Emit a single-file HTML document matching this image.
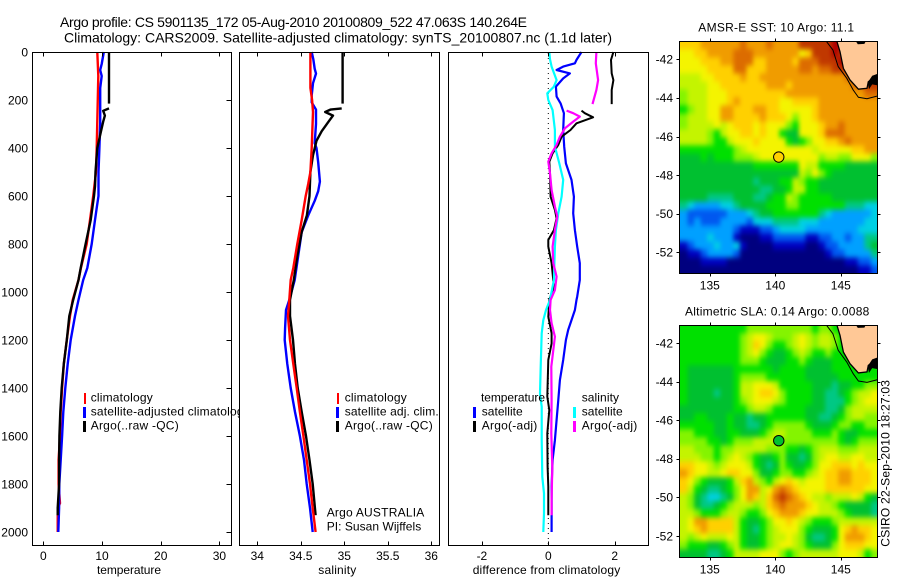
<!DOCTYPE html>
<html>
<head>
<meta charset="utf-8">
<title>Argo profile 5901135_172</title>
<style>
html,body{margin:0;padding:0;background:#fff;}
svg{display:block;}
text{font-family:"Liberation Sans",sans-serif;font-size:12px;fill:#000;}
.t14{font-size:14px;}
.line{fill:none;stroke-linejoin:round;stroke-linecap:butt;}
</style>
</head>
<body>
<svg id="chart" width="900" height="580" viewBox="0 0 900 580" xmlns="http://www.w3.org/2000/svg">
<defs>
<filter id="smooth" filterUnits="userSpaceOnUse" x="640" y="0" width="260" height="580" color-interpolation-filters="sRGB">
<feGaussianBlur stdDeviation="2.2 2.6"/>
</filter>
<clipPath id="clip-map-top"><rect x="680" y="42" width="197" height="231"/></clipPath>
<clipPath id="clip-map-bottom"><rect x="680" y="326" width="197" height="231"/></clipPath>
</defs>
<text class="t14" x="60" y="27" textLength="467" lengthAdjust="spacing">Argo profile: CS 5901135_172 05-Aug-2010 20100809_522 47.063S 140.264E</text>
<text class="t14" x="64" y="42.5" textLength="548" lengthAdjust="spacing">Climatology: CARS2009. Satellite-adjusted climatology: synTS_20100807.nc (1.1d later)</text>

<g id="panel1">
<rect x="32.5" y="52.5" width="199" height="493" fill="#fff" stroke="none"/>
<g id="p1marks"></g>
<rect x="84" y="393" width="2" height="11" fill="#ff0000"/>
<rect x="83" y="407" width="3" height="11" fill="#0000ff"/>
<rect x="83" y="421" width="3" height="11" fill="#000"/>
<text x="90.7" y="401.7" textLength="62" lengthAdjust="spacing">climatology</text>
<text x="90.7" y="415.7" textLength="159" lengthAdjust="spacing">satellite-adjusted climatology</text>
<text x="90.7" y="429.7" textLength="88" lengthAdjust="spacing">Argo(..raw -QC)</text>
<rect x="32.5" y="52.5" width="199" height="493" fill="none" stroke="#000"/>
<g id="p1axes"></g>
<text x="97" y="574" textLength="64" lengthAdjust="spacing">temperature</text>
</g>

<g id="panel2">
<rect x="239.5" y="52.5" width="200" height="493" fill="#fff" stroke="none"/>
<g id="p2marks"></g>
<rect x="337" y="393" width="2" height="11" fill="#ff0000"/>
<rect x="336" y="407" width="3" height="11" fill="#0000ff"/>
<rect x="336" y="421" width="3" height="11" fill="#000"/>
<text x="344.7" y="401.7" textLength="62" lengthAdjust="spacing">climatology</text>
<text x="344.7" y="415.7" textLength="94" lengthAdjust="spacing">satellite adj. clim.</text>
<text x="344.7" y="429.7" textLength="88" lengthAdjust="spacing">Argo(..raw -QC)</text>
<text x="326.7" y="516.7" textLength="97.6" lengthAdjust="spacing">Argo AUSTRALIA</text>
<text x="326.7" y="530.7" textLength="94.5" lengthAdjust="spacing">PI: Susan Wijffels</text>
<rect x="239.5" y="52.5" width="200" height="493" fill="none" stroke="#000"/>
<g id="p2axes"></g>
<text x="318.3" y="574" textLength="38" lengthAdjust="spacing">salinity</text>
</g>

<g id="panel3">
<rect x="448.5" y="52.5" width="200" height="493" fill="#fff" stroke="none"/>
<g id="p3marks"></g>
<text x="481" y="401.7" textLength="64" lengthAdjust="spacing">temperature</text>
<rect x="473" y="407" width="3" height="11" fill="#0000ff"/>
<rect x="473" y="421" width="3" height="11" fill="#000"/>
<text x="481.7" y="415.7" textLength="41" lengthAdjust="spacing">satellite</text>
<text x="481.7" y="429.7" textLength="55.6" lengthAdjust="spacing">Argo(-adj)</text>
<text x="581.7" y="401.7" textLength="37.3" lengthAdjust="spacing">salinity</text>
<rect x="573" y="407" width="3" height="11" fill="#00ffff"/>
<rect x="573" y="421" width="3" height="11" fill="#ff00ff"/>
<text x="581.7" y="415.7" textLength="41" lengthAdjust="spacing">satellite</text>
<text x="581.7" y="429.7" textLength="55.6" lengthAdjust="spacing">Argo(-adj)</text>
<rect x="448.5" y="52.5" width="200" height="493" fill="none" stroke="#000"/>
<g id="p3axes"></g>
<text x="472.7" y="574" textLength="147.5" lengthAdjust="spacing">difference from climatology</text>
</g>

<g id="map1"></g>
<text x="698.3" y="31.7" textLength="155.7" lengthAdjust="spacing">AMSR-E SST: 10 Argo: 11.1</text>
<g id="map2"></g>
<text x="685" y="315.7" textLength="184.3" lengthAdjust="spacing">Altimetric SLA: 0.14 Argo: 0.0088</text>
<text transform="translate(889.3 546.7) rotate(-90)" textLength="166.7" lengthAdjust="spacing">CSIRO 22-Sep-2010 18:27:03</text>
</svg>

<script>
// ---- tick labels ----
const depthTicks = [0,200,400,600,800,1000,1200,1400,1600,1800,2000];
const tempTicks = [0,10,20,30];
const salTicks = [34,34.5,35,35.5,36];
const diffTicks = [-2,0,2];
const lonTicks = [135,140,145];
const latTicks = [-42,-44,-46,-48,-50,-52];

// ---- temperature panel ----
const tempClimDepth = [0,100,400,500,600,700,800,900,950,1033,1100,1200,1300,1400,1500,1600,1700,1800,1880,1900,2000];
const tempClim = [9.2,9.37,9.1,8.98,8.5,7.96,7.4,6.4,6.0,5.0,4.55,4.0,3.5,3.2,2.96,2.85,2.6,2.6,2.85,2.45,2.45];
const tempSatDepth = [0,50,75,100,150,200,300,400,500,600,650,700,800,900,950,1033,1100,1200,1300,1400,1500,1600,1700,1800,1900,2000];
const tempSat = [10.3,9.95,9.7,9.95,9.7,9.7,9.7,9.55,9.4,9.4,9.1,8.8,8.25,7.5,6.8,6.0,5.4,4.67,4.15,3.75,3.4,3.2,2.96,2.73,2.7,2.56];
const tempArgoUpperDepth = [0,215];
const tempArgoUpper = [11.2,11.2];
const tempArgoDepth = [235,245,265,290,330,400,500,560,600,700,800,900,950,1033,1100,1200,1300,1400,1500,1600,1700,1800,1900,1930];
const tempArgo = [11.2,10.2,10.5,10.2,9.83,9.2,8.9,8.8,8.64,8.07,7.2,6.37,6.0,5.1,4.43,4.0,3.5,3.13,2.9,2.75,2.7,2.7,2.45,2.45];

// ---- salinity panel ----
const salClimDepth = [0,100,150,200,250,400,500,550,600,700,800,900,950,1033,1100,1200,1300,1400,1500,1600,1700,1800,1900,2000];
const salClim = [34.61,34.61,34.61,34.63,34.64,34.625,34.61,34.585,34.556,34.51,34.46,34.414,34.384,34.368,34.353,34.376,34.414,34.453,34.49,34.53,34.568,34.606,34.637,34.67];
const salSatDepth = [0,30,70,90,130,180,210,240,300,380,400,460,540,580,620,680,750,850,950,1033,1075,1150,1200,1300,1400,1500,1600,1700,1800,1900,2000];
const salSat = [34.625,34.644,34.66,34.675,34.64,34.625,34.625,34.675,34.675,34.66,34.68,34.7,34.72,34.7,34.66,34.586,34.51,34.47,34.43,34.368,34.33,34.32,34.315,34.345,34.384,34.433,34.49,34.537,34.568,34.606,34.637];
const salArgoUpperDepth = [0,215];
const salArgoUpper = [34.98,34.98];
const salArgoDepth = [235,240,250,265,290,330,370,430,500,600,680,750,850,950,1033,1100,1200,1300,1400,1500,1600,1700,1800,1930];
const salArgo = [34.97,34.84,34.78,34.87,34.82,34.74,34.68,34.64,34.61,34.6,34.57,34.51,34.46,34.42,34.376,34.376,34.41,34.433,34.464,34.51,34.56,34.6,34.637,34.67];

// ---- difference panel ----
const diffTempSatDepth = [0,33,47,61,75,89,110,144,186,214,255,325,394,464,533,603,672,742,811,880,950,1019,1033,1075,1117,1158,1200,1283,1367,1450,1533,1617,1700,1811,1922,2000];
const diffTempSat = [1.0,0.85,0.8,0.45,0.25,0.65,0.45,0.23,0.25,0.37,0.47,0.45,0.48,0.53,0.7,0.77,0.75,0.8,0.87,0.95,0.95,0.87,0.85,0.8,0.7,0.6,0.53,0.45,0.35,0.3,0.25,0.2,0.13,0.1,0.1,0.1];
const diffSalSatDepth = [0,30,61,117,144,172,200,242,325,394,464,533,603,672,742,811,950,1033,1075,1117,1172,1311,1422,1478,1617,1770,1839,1922,2000];
const diffSalSat = [0.03,0.05,0.1,0.25,0.17,-0.03,0,0.13,0.2,0.2,0.33,0.45,0.4,0.3,0.23,0.2,0.17,0.05,-0.07,-0.15,-0.2,-0.23,-0.25,-0.2,-0.2,-0.18,-0.13,-0.13,-0.15];
const diffTempArgoUpperDepth = [0,33,89,117,158,217];
const diffTempArgoUpper = [1.96,1.89,1.91,1.96,1.91,1.91];
const diffTempArgoDepth = [244,255,272,297,325,353,387,422,457,505,603,658,693,742,783,811,880,978,1033,1103,1172,1214,1283,1436,1492,1589,1728,1811,1930];
const diffTempArgo = [1.0,1.1,1.35,0.85,0.67,0.4,0.3,0.13,0.03,0.05,0.07,0.2,0.25,0.17,0,0,0.1,0.17,0.03,0,0.1,0.1,0,-0.03,0.03,-0.03,-0.02,0,0];
const diffSalArgoUpperDepth = [0,47,117,158,217];
const diffSalArgoUpper = [1.45,1.43,1.5,1.45,1.33];
const diffSalArgoDepth = [244,255,269,290,318,353,387,422,457,505,575,644,686,742,811,880,936,992,1033,1075,1130,1186,1242,1311,1450,1589,1728,1867,1930];
const diffSalArgo = [0.55,0.75,0.95,0.75,0.5,0.35,0.25,0.1,0,0.05,0.1,0.2,0.27,0.2,0.13,0.15,0.25,0.2,0.07,0.05,0.1,0.2,0.15,0.09,0.1,0.09,0.12,0.1,0.1];

// ---- map data: colour-level grids, rows north to south ----
const sstGrid = [
[11,11,11,12,12,12,12,12,12,13,12,12,12,13,12,12,12,12,14,14,14,14,14,15,15,15,15,15,15,15],
[10,10,11,11,12,12,12,12,13,13,13,12,12,12,12,12,12,12,10,11,14,14,14,15,14,14,14,14,14,14],
[10,10,10,11,11,11,12,12,13,13,13,11,11,12,12,12,12,11,13,13,13,14,14,14,15,14,14,14,14,14],
[10,10,10,10,11,11,11,11,13,13,11,11,11,12,12,12,12,12,13,13,12,13,13,14,14,14,14,14,14,14],
[9,9,9,10,10,11,11,11,11,12,11,11,12,12,12,12,12,12,12,12,12,12,12,12,12,13,14,14,14,14],
[9,9,9,9,10,10,11,11,11,11,11,11,11,12,12,12,11,12,12,12,12,12,12,12,12,12,13,13,14,14],
[8,9,9,9,10,10,10,11,11,11,11,11,11,11,11,11,12,12,12,12,12,12,12,12,12,12,12,12,13,13],
[8,9,9,9,10,10,10,11,12,11,11,11,11,11,11,10,10,11,11,11,11,12,12,12,12,12,12,12,12,12],
[7,8,9,9,10,10,12,12,11,11,11,12,12,11,11,10,10,10,10,10,11,12,12,12,12,12,12,12,12,12],
[8,9,9,9,10,10,12,12,11,11,11,11,12,11,11,11,10,8,10,10,11,12,12,12,12,12,12,12,12,12],
[8,9,9,9,9,10,9,10,11,11,11,10,11,10,10,10,8,7,10,10,10,11,12,12,13,12,12,12,12,12],
[9,9,9,9,8,7,9,10,10,11,11,10,11,10,10,7,6,6,10,10,10,11,13,13,13,12,12,12,12,12],
[9,9,9,9,8,7,7,9,10,10,10,11,10,10,10,10,7,6,7,8,10,10,11,11,12,13,12,12,12,12],
[7,7,7,7,7,7,7,7,8,9,10,10,10,10,10,10,10,10,10,10,9,10,10,10,10,10,11,11,12,12],
[6,6,6,7,6,7,7,7,8,8,8,9,10,10,10,10,10,10,10,10,10,8,9,9,8,8,10,10,10,8],
[6,6,6,6,6,6,6,6,6,6,6,7,7,7,7,7,7,7,10,9,9,7,7,7,7,6,6,6,6,6],
[6,6,6,6,6,6,6,6,6,6,6,6,6,6,6,6,6,6,9,8,10,8,7,6,6,6,6,6,6,6],
[6,6,6,6,6,6,6,6,6,6,6,5,6,6,6,7,7,9,8,7,7,6,6,6,6,6,6,6,6,6],
[6,6,6,6,6,6,6,6,6,6,6,6,5,5,6,6,7,9,9,7,7,6,6,6,6,6,6,6,6,6],
[6,6,6,6,5,5,5,5,6,6,6,5,5,6,7,7,9,8,7,7,7,7,7,6,6,6,6,6,6,6],
[5,4,3,3,3,3,4,4,5,6,6,6,6,7,7,7,8,8,7,7,7,7,7,7,7,5,5,5,4,4],
[3,2,2,2,2,2,2,3,3,3,4,5,6,6,7,7,7,7,7,7,7,5,4,3,3,3,3,3,3,4],
[3,2,3,2,2,2,3,3,3,3,2,4,4,4,5,5,5,5,4,4,4,3,3,3,3,3,3,3,4,4],
[3,3,3,3,3,3,3,3,2,1,1,1,2,2,3,4,4,4,4,3,3,3,3,3,3,3,3,4,4,4],
[3,3,3,3,4,3,3,3,1,0,0,0,1,1,2,2,2,2,2,1,1,2,2,3,3,2,3,3,5,5],
[1,2,3,3,3,4,3,3,4,1,0,0,0,0,1,1,1,1,1,0,0,1,2,2,3,3,3,3,5,6],
[0,1,1,2,3,3,3,3,2,0,0,0,0,0,0,0,0,0,0,0,0,0,1,2,2,3,3,3,3,5],
[0,0,0,1,1,1,1,0,0,0,0,0,0,0,0,0,0,0,0,0,0,0,0,0,0,1,1,2,2,3],
[0,0,0,0,0,0,0,0,0,0,0,0,0,0,0,0,0,0,0,0,0,0,0,0,0,0,0,1,1,2]
];
const slaGrid = [
[7,7,7,7,7,7,7,7,7,7,8,8,8,8,8,8,8,8,8,8,7,8,8,7,7,7,7,7,7,7],
[7,7,7,7,7,7,7,7,7,8,9,10,10,9,8,8,8,9,10,9,8,9,9,8,7,7,7,7,7,7],
[7,7,7,7,7,7,7,7,7,8,9,11,10,8,7,7,8,9,10,9,8,9,9,8,7,7,7,7,7,7],
[7,7,7,7,7,7,7,7,7,8,9,10,8,7,6,6,7,8,9,8,7,7,8,7,7,7,7,7,7,7],
[7,7,7,7,7,7,7,7,7,8,8,8,7,6,6,6,7,7,8,7,6,6,6,7,7,7,7,7,7,7],
[7,6,6,6,6,6,6,6,7,7,7,7,7,7,6,7,7,7,7,6,6,6,6,7,7,7,7,7,7,7],
[7,6,6,6,6,6,6,6,7,8,8,8,8,7,7,7,7,7,7,6,6,6,6,6,7,7,7,7,7,7],
[7,6,6,6,6,6,6,6,7,9,9,10,10,10,9,7,7,7,7,7,6,6,6,5,6,6,7,7,8,8],
[7,6,6,6,6,5,6,6,7,9,9,10,11,11,10,8,7,7,7,7,6,6,5,5,6,7,8,9,9,10],
[7,6,6,6,6,6,6,6,7,8,9,10,10,10,9,8,7,7,7,7,6,6,5,5,5,7,8,9,10,10],
[6,6,6,6,6,6,6,6,7,7,8,9,9,8,7,7,7,7,7,6,6,6,5,5,6,8,9,9,9,9],
[6,6,7,7,6,6,6,7,6,6,5,6,6,7,7,7,7,7,7,6,6,5,5,6,7,8,9,9,8,8],
[7,7,7,7,7,6,6,7,6,6,5,5,6,7,8,8,8,8,8,7,6,6,6,7,8,8,7,7,8,8],
[8,8,7,7,7,6,6,7,7,6,6,6,7,8,9,9,8,8,8,8,7,7,7,8,7,6,6,7,7,7],
[8,8,8,8,7,7,6,7,8,8,8,9,9,9,9,8,8,8,8,8,8,8,8,8,7,6,7,8,8,8],
[9,9,8,8,8,7,8,8,9,9,9,9,9,8,8,8,7,7,6,7,8,9,9,9,8,8,8,9,9,9],
[9,9,9,8,8,7,8,9,10,9,8,7,6,6,7,8,6,6,5,6,8,9,10,10,9,9,10,10,9,9],
[11,11,10,10,9,8,9,10,10,10,9,7,6,5,6,8,7,6,6,7,8,10,10,11,11,11,10,11,10,10],
[12,11,10,10,9,9,10,11,11,10,10,8,6,6,7,8,8,7,7,8,9,10,11,11,12,12,11,11,11,10],
[11,10,8,7,6,6,6,7,9,11,12,9,8,7,9,10,11,10,9,10,10,10,11,11,12,12,11,11,11,10],
[11,9,7,6,5,5,6,7,8,10,12,12,9,10,12,13,12,11,10,10,10,10,11,11,11,11,11,11,10,10],
[9,8,6,5,4,4,5,6,8,10,12,11,9,11,13,14,13,12,11,10,9,9,8,9,9,9,10,9,7,6],
[9,8,6,5,5,6,7,8,9,9,9,8,9,11,12,13,12,12,12,11,10,9,9,8,7,6,6,6,6,5],
[9,9,8,7,7,7,8,9,9,8,7,7,8,10,11,12,12,12,11,10,10,9,9,9,8,7,6,6,6,5],
[9,10,12,12,11,11,11,11,9,7,6,6,7,8,10,10,11,10,9,8,7,7,7,8,9,9,9,9,9,9],
[9,10,11,12,11,11,11,11,9,7,6,5,7,8,9,10,10,10,8,7,6,6,6,7,10,11,12,11,11,10],
[9,8,9,10,9,9,9,10,9,7,6,6,7,8,9,9,10,9,8,6,5,5,6,7,10,12,12,12,11,10],
[8,7,7,7,6,6,7,8,9,7,6,6,7,8,9,10,10,9,8,7,6,6,6,8,10,11,11,11,10,10],
[6,6,6,6,5,5,6,7,9,9,9,9,10,10,10,8,7,8,9,9,9,9,9,9,10,10,10,9,7,8]
];

// ---- coastline, bathymetry contour and small coastal details, lon and lat ----
const coastLon = [144.7,144.94,145.2,145.7,146.34,147.0,147.1,147.8];
const coastLat = [-41.07,-41.6,-42.47,-43.07,-43.55,-43.5,-43.16,-42.81];
const contourLon = [143.9,144.4,144.8,145.45,145.95,146.34,147.0,147.8];
const contourLat = [-41.07,-41.52,-42.38,-42.98,-43.59,-43.97,-44.04,-43.9];
const inletLon = [147.05,147.4,147.8,147.8,147.4,147.15];
const inletLat = [-43.2,-42.85,-42.75,-43.35,-43.3,-43.55];
const lakeLon = [146.15,146.9,146.8,146.3];
const lakeLat = [-41.07,-41.07,-41.2,-41.22];
const profileLon = [140.264];
const profileLat = [-47.063];

// ---- axis functions ----
const SVGNS = 'http://www.w3.org/2000/svg';
function yDepth(d){ return 52 + d * 0.24; }
function xTemp(v){ return 43.3 + v * 5.87; }
function xSal(v){ return 257.3 + (v - 34) * 87; }
function xDiff(v){ return 548.3 + v * 33.2; }
function xLon(v){ return 775.3 + (v - 140) * 13.1; }
function yLatTop(v){ return 59.3 + (-42 - v) * 19.3; }
function yLatBottom(v){ return 343 + (-42 - v) * 19.3; }

const levelColors = ['#00007f','#0000c0','#0058f0','#00a0ff','#00d0e4','#00c884','#00c030','#00e000','#84f400','#c4f400','#f4f400','#ffd000','#f09c00','#dc6c00','#c03800','#b00000'];
const landColor = '#ffc896';

function make(tag, attrs, parent){
  const el = document.createElementNS(SVGNS, tag);
  for (const k in attrs) el.setAttribute(k, attrs[k]);
  parent.appendChild(el);
  return el;
}

function drawProfile(parentId, xFn, depths, values, color, width, label){
  let pts = '';
  for (let i = 0; i < depths.length; i++) pts += xFn(values[i]).toFixed(1) + ',' + yDepth(depths[i]).toFixed(1) + ' ';
  const el = make('polyline', {points: pts, class: 'line', stroke: color, 'stroke-width': width}, document.getElementById(parentId));
  
  
}

function tickLine(parent, x1, y1, x2, y2){
  const el = make('line', {x1: x1, y1: y1, x2: x2, y2: y2, stroke: '#000', 'stroke-width': 1}, parent);
  
  
}

function tickText(parent, str, x, y, anchor){
  const el = make('text', {x: x, y: y, 'text-anchor': anchor}, parent);
  el.textContent = str;
  
  
}

function drawXAxis(parentId, ticks, xFn){
  const g = document.getElementById(parentId);
  ticks.forEach(function(t){
    const x = Math.round(xFn(t)) + 0.5;
    tickLine(g, x, 52.5, x, 56.5);
    tickLine(g, x, 541.5, x, 545.5);
    tickText(g, String(t), xFn(t), 560, 'middle');
  });
}

// ---- draw profiles ----
drawProfile('p1marks', xTemp, tempClimDepth, tempClim, '#ff0000', 2.4, 'temperature-climatology-line');
drawProfile('p1marks', xTemp, tempSatDepth, tempSat, '#0000ff', 2.4, 'temperature-satellite-line');
drawProfile('p1marks', xTemp, tempArgoUpperDepth, tempArgoUpper, '#000000', 2.4, 'temperature-argo-upper-line');
drawProfile('p1marks', xTemp, tempArgoDepth, tempArgo, '#000000', 2.4, 'temperature-argo-line');

drawProfile('p2marks', xSal, salSatDepth, salSat, '#0000ff', 2.4, 'salinity-satellite-line');
drawProfile('p2marks', xSal, salArgoUpperDepth, salArgoUpper, '#000000', 2.4, 'salinity-argo-upper-line');
drawProfile('p2marks', xSal, salArgoDepth, salArgo, '#000000', 2.4, 'salinity-argo-line');
drawProfile('p2marks', xSal, salClimDepth, salClim, '#ff0000', 2.4, 'salinity-climatology-line');

const zeroLine = make('line', {x1: xDiff(0), y1: 53, x2: xDiff(0), y2: 545, stroke: '#000', 'stroke-width': 1, 'stroke-dasharray': '1 4'}, document.getElementById('p3marks'));


drawProfile('p3marks', xDiff, diffTempSatDepth, diffTempSat, '#0000ff', 2.2, 'difference-temperature-satellite-line');
drawProfile('p3marks', xDiff, diffTempArgoUpperDepth, diffTempArgoUpper, '#000000', 2, 'difference-temperature-argo-upper-line');
drawProfile('p3marks', xDiff, diffTempArgoDepth, diffTempArgo, '#000000', 2, 'difference-temperature-argo-line');
drawProfile('p3marks', xDiff, diffSalSatDepth, diffSalSat, '#00ffff', 2.2, 'difference-salinity-satellite-line');
drawProfile('p3marks', xDiff, diffSalArgoUpperDepth, diffSalArgoUpper, '#ff00ff', 2.2, 'difference-salinity-argo-upper-line');
drawProfile('p3marks', xDiff, diffSalArgoDepth, diffSalArgo, '#ff00ff', 2.2, 'difference-salinity-argo-line');

// ---- draw axes ----
drawXAxis('p1axes', tempTicks, xTemp);
drawXAxis('p2axes', salTicks, xSal);
drawXAxis('p3axes', diffTicks, xDiff);
depthTicks.forEach(function(d){
  const g = document.getElementById('p1axes');
  const y = Math.round(yDepth(d)) + 0.5;
  if (d > 0) tickLine(g, 226.5, y, 231.5, y);
  tickText(g, String(d), 28, yDepth(d) + 4.3, 'end');
});

// ---- draw maps ----
function pointList(lons, lats, yLat){
  let s = '';
  lons.forEach(function(lon, i){ s += xLon(lon).toFixed(1) + ',' + yLat(lats[i]).toFixed(1) + ' '; });
  return s;
}

function drawMap(parentId, grid, yLat, clipId, markerColor, label){
  const g = document.getElementById(parentId);
  const topLat = -41.07;
  const leftLon = 132.8;
  const lonStep = 0.5;
  const latStep = 0.415;
  const clipGroup = make('g', {'clip-path': 'url(#' + clipId + ')'}, g);
  
  
  const cells = make('g', {filter: 'url(#smooth)'}, clipGroup);
  
  
  grid.forEach(function(row, r){
    row.forEach(function(level, c){
      let x0 = xLon(leftLon + c * lonStep);
      let x1 = xLon(leftLon + (c + 1) * lonStep);
      let y0 = yLat(topLat - r * latStep);
      let y1 = yLat(topLat - (r + 1) * latStep);
      if (c === 0) x0 -= 12;
      if (c === row.length - 1) x1 += 12;
      if (r === 0) y0 -= 12;
      if (r === grid.length - 1) y1 += 12;
      const cell = make('rect', {x: x0.toFixed(2), y: y0.toFixed(2), width: (x1 - x0 + 0.4).toFixed(2), height: (y1 - y0 + 0.4).toFixed(2), fill: levelColors[level]}, cells);
      
      
    });
  });
  const right = xLon(147.8);
  const top = yLat(-41.07);
  const land = make('polygon', {points: pointList(coastLon, coastLat, yLat) + right + ',' + top, fill: landColor}, clipGroup);
  
  
  const inlet = make('polygon', {points: pointList(inletLon, inletLat, yLat), fill: '#000'}, clipGroup);
  
  
  const lake = make('polygon', {points: pointList(lakeLon, lakeLat, yLat), fill: '#000'}, clipGroup);
  
  
  const coast = make('polyline', {points: pointList(coastLon, coastLat, yLat), fill: 'none', stroke: '#000', 'stroke-width': 1.3}, clipGroup);
  
  
  const contour = make('polyline', {points: pointList(contourLon, contourLat, yLat), fill: 'none', stroke: '#000', 'stroke-width': 1}, clipGroup);
  
  
  const frame = make('rect', {x: 679.5, y: Math.round(top) + 0.5, width: 198, height: 232, fill: 'none', stroke: '#000', 'stroke-width': 1}, g);
  
  
  const bottom = Math.round(top) + 232.5;
  lonTicks.forEach(function(lon){
    const x = Math.round(xLon(lon)) + 0.5;
    tickLine(g, x, Math.round(top) + 0.5, x, Math.round(top) - 2.5);
    tickLine(g, x, bottom, x, bottom + 3);
    tickText(g, String(lon), xLon(lon), bottom + 16, 'middle');
  });
  latTicks.forEach(function(lat){
    const y = Math.round(yLat(lat)) + 0.5;
    tickLine(g, 676.5, y, 679.5, y);
    tickLine(g, 877.5, y, 880.5, y);
    tickText(g, String(lat), 673, yLat(lat) + 4.3, 'end');
  });
  const marker = make('circle', {cx: xLon(profileLon[0]), cy: yLat(profileLat[0]), r: 5.2, fill: markerColor, stroke: '#000', 'stroke-width': 1}, g);
  
  
}
drawMap('map1', sstGrid, yLatTop, 'clip-map-top', '#ffd000', 'sst-map');
drawMap('map2', slaGrid, yLatBottom, 'clip-map-bottom', '#00c030', 'sla-map');
</script>
</body>
</html>
